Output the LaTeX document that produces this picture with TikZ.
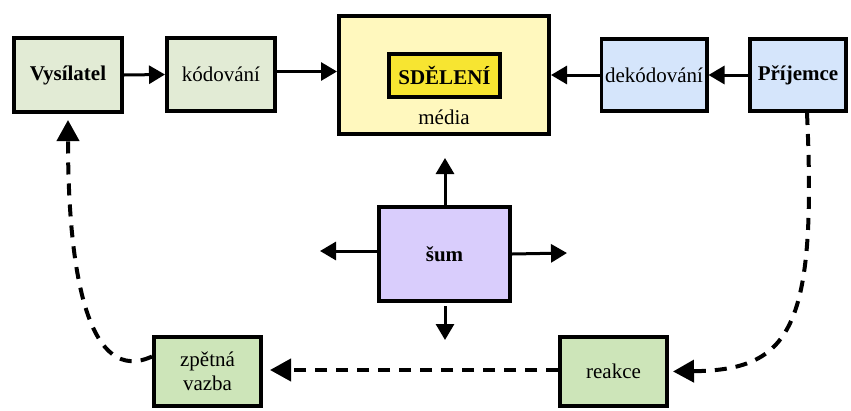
\documentclass[tikz,border=0pt]{standalone}
\usepackage{fontspec}
\setmainfont{Liberation Serif}
\usetikzlibrary{arrows.meta}
\definecolor{sendfill}{HTML}{E2EBD5}
\definecolor{mediafill}{HTML}{FFF8BE}
\definecolor{msgfill}{HTML}{F7E531}
\definecolor{recvfill}{HTML}{D5E5FB}
\definecolor{noisefill}{HTML}{D9CDFC}
\definecolor{fbfill}{HTML}{CDE5B9}
\begin{document}
\begin{tikzpicture}[x=1pt,y=-1pt,
  every node/.style={font=\fontsize{21}{24}\selectfont, inner sep=0pt},
  box/.style={draw=black, line width=3.8pt, rectangle, align=center},
  arr/.style={line width=3pt, -{Triangle[length=16pt,width=18pt]}},
  darr/.style={line width=4pt, dash pattern=on 12pt off 9pt,
    -{Triangle[length=21pt,width=22pt]}},
]
\useasboundingbox (0,0) rectangle (851,410);

% sender side
\node[box, fill=sendfill, minimum width=108.2pt, minimum height=74.2pt,
      font=\fontsize{21}{24}\selectfont\bfseries] (sender) at (68,75) {Vysílatel};
\node[box, fill=sendfill, minimum width=108.2pt, minimum height=73.2pt] (enc) at (221,74.5) {kódování};

% medium with the message
\node[box, fill=mediafill, minimum width=210.2pt, minimum height=118.2pt] (media) at (444,75) {};
\node[box, fill=msgfill, minimum width=111.2pt, minimum height=43.2pt,
      font=\fontsize{21}{24}\selectfont\bfseries] (msg) at (444.5,75.5) {SDĚLENÍ};
\node (medialbl) at (444,117) {média};

% receiver side
\node[box, fill=recvfill, minimum width=105.2pt, minimum height=72.2pt] (dec) at (654,75) {dekódování};
\node[box, fill=recvfill, minimum width=96.2pt, minimum height=72.2pt,
      font=\fontsize{21}{24}\selectfont\bfseries] (recv) at (798,75) {Příjemce};

% noise
\node[box, fill=noisefill, minimum width=131.2pt, minimum height=94.2pt,
      font=\fontsize{21}{24}\selectfont\bfseries] (noise) at (444.5,254) {šum};

% feedback loop
\node[box, fill=fbfill, minimum width=107.2pt, minimum height=69.2pt] (fb) at (207.5,371.5) {zpětná\\vazba};
\node[box, fill=fbfill, minimum width=107.2pt, minimum height=69.2pt] (react) at (613.5,371.5) {reakce};

% solid flow along the top
\draw[arr] (sender.east) -- (enc.west);
\draw[arr] ([yshift=3pt]enc.east) -- ([yshift=3pt]enc.east -| media.west);
\draw[arr] (recv.west) -- (dec.west -| dec.east);
\draw[arr] (dec.west) -- (dec.west -| media.east);

% noise spreading out
\coordinate (nup) at (445,158);
\coordinate (ndown) at (445,340);
\coordinate (nleft) at (320,251);
\coordinate (nright) at (567,253);
\draw[arr] (noise.north -| nup) -- (nup);
\draw[arr] ([yshift=-3pt]noise.south -| ndown) -- (ndown);
\draw[arr] (noise.west |- nleft) -- (nleft);
\draw[arr] (noise.east) -- (nright);

% dashed feedback path
\draw[darr, shorten >=3pt] ([xshift=9pt]recv.south) .. controls (817,330) and (790,370) .. ([xshift=1pt]react.east);
\draw[darr, shorten >=7pt] ([yshift=1.5pt]react.west) -- ([yshift=1.5pt]fb.east);
\draw[darr, shorten >=6pt] ([yshift=15pt]fb.west) .. controls (90,385) and (68,280) .. (sender.south);
\end{tikzpicture}
\end{document}
